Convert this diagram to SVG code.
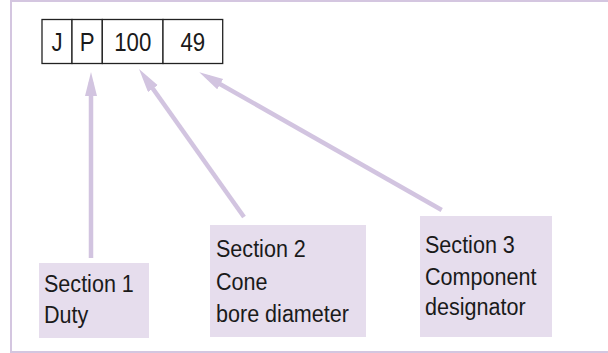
<svg xmlns="http://www.w3.org/2000/svg" width="608" height="353" viewBox="0 0 608 353">
<defs>
<style>
.frame{fill:none;stroke:#d4c6e0;stroke-width:2}
.cell{fill:#ffffff;stroke:#222222;stroke-width:1.3}
.ct{font-family:"Liberation Sans",Arial,sans-serif;font-size:25px;fill:#1a1a1a;text-anchor:middle}
.box{fill:#e6dded}
.lt{font-family:"Liberation Sans",Arial,sans-serif;font-size:24.5px;fill:#1a1a1a}
.conn{stroke:#d2c4e0;stroke-width:4.5;fill:none;marker-end:url(#ah)}
</style>
<marker id="ah" markerUnits="userSpaceOnUse" markerWidth="26" markerHeight="14" refX="14" refY="6" orient="auto">
<path d="M0,0 L24,6 L0,12 z" fill="#d2c4e0"/>
</marker>
</defs>
<rect class="frame" x="11" y="1" width="620" height="351"/>
<g id="code">
<rect class="cell" x="42" y="19.5" width="30" height="44"/>
<rect class="cell" x="72" y="19.5" width="30.3" height="44"/>
<rect class="cell" x="102.3" y="19.5" width="60.7" height="44"/>
<rect class="cell" x="163" y="19.5" width="59.7" height="44"/>
<text class="ct" transform="matrix(0.89,0,0,1,57,50.5)">J</text>
<text class="ct" transform="matrix(0.89,0,0,1,87.2,50.5)">P</text>
<text class="ct" transform="matrix(0.89,0,0,1,132.7,50.5)">100</text>
<text class="ct" transform="matrix(0.89,0,0,1,192.8,50.5)">49</text>
</g>
<g id="connectors">
<line class="conn" x1="91" y1="258" x2="91" y2="82"/>
<line class="conn" x1="244" y1="217" x2="144.8" y2="77.2"/>
<line class="conn" x1="441.7" y1="210" x2="208" y2="77.2"/>
</g>
<g id="section1">
<rect class="box" x="39" y="263" width="110" height="75"/>
<text class="lt" transform="matrix(0.88,0,0,1,44,292)">Section 1</text>
<text class="lt" transform="matrix(0.88,0,0,1,44,323)">Duty</text>
</g>
<g id="section2">
<rect class="box" x="210" y="225" width="156" height="112"/>
<text class="lt" transform="matrix(0.88,0,0,1,216,257)">Section 2</text>
<text class="lt" transform="matrix(0.88,0,0,1,216,290)">Cone</text>
<text class="lt" transform="matrix(0.88,0,0,1,216,322)">bore diameter</text>
</g>
<g id="section3">
<rect class="box" x="420" y="216" width="132" height="121"/>
<text class="lt" transform="matrix(0.88,0,0,1,425,253)">Section 3</text>
<text class="lt" transform="matrix(0.88,0,0,1,425,285)">Component</text>
<text class="lt" transform="matrix(0.88,0,0,1,425,315)">designator</text>
</g>
</svg>
